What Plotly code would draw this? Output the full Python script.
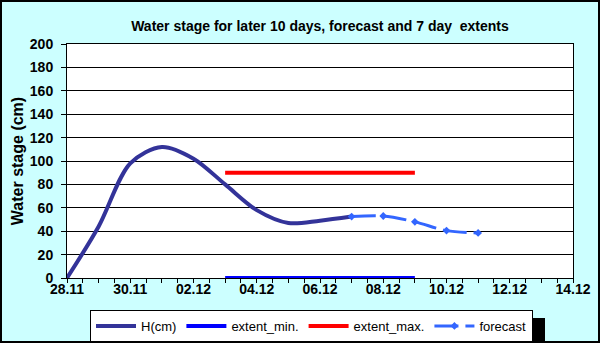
import plotly.graph_objects as go

# ---- data ----
h_dates = ["2010-11-28", "2010-11-29", "2010-11-30", "2010-12-01", "2010-12-02",
           "2010-12-03", "2010-12-04", "2010-12-05", "2010-12-06", "2010-12-07"]
h_values = [0, 44, 98, 112, 102, 80, 58, 47, 49, 52.5]

forecast_dates = ["2010-12-07", "2010-12-08", "2010-12-09", "2010-12-10", "2010-12-11"]
forecast_values = [52.5, 53, 48, 40.5, 38.5]

extent_dates = ["2010-12-03", "2010-12-09"]
extent_min = [0, 0]
extent_max = [90, 90]

x_range = ["2010-11-28", "2010-12-14"]
y_ticks = list(range(0, 201, 20))

FONT = "Arial, Liberation Sans, sans-serif"

fig = go.Figure()
fig.add_trace(go.Scatter(x=h_dates, y=h_values, name="H(cm)", mode="lines",
                         line=dict(color="#333399", width=4, shape="spline", smoothing=0.9)))
fig.add_trace(go.Scatter(x=extent_dates, y=extent_min, name="extent_min.", mode="lines",
                         line=dict(color="#0000ff", width=4)))
fig.add_trace(go.Scatter(x=extent_dates, y=extent_max, name="extent_max.", mode="lines",
                         line=dict(color="#ff0000", width=4)))
fig.add_trace(go.Scatter(x=forecast_dates, y=forecast_values, name="forecast", mode="lines+markers",
                         line=dict(color="#3366ff", width=3, shape="spline", smoothing=0.9, dash="24px,7px"),
                         marker=dict(symbol="diamond", size=6, color="#3366ff")))

W, H = 600, 343
ml, mr, mt, mb = 67, 27, 44, 65
pw, ph = W - ml - mr, H - mt - mb

def px_x(x):
    return (x - ml) / pw

def px_y(y):
    return (H - mb - y) / ph

shapes = [
    # legend shadow
    dict(type="rect", xref="paper", yref="paper", x0=px_x(94), x1=px_x(545), y0=px_y(342), y1=px_y(318),
         fillcolor="black", line=dict(width=0), layer="above"),
    # outer frame
    dict(type="rect", xref="paper", yref="paper", x0=px_x(1), x1=px_x(599), y0=px_y(342), y1=px_y(1),
         line=dict(color="black", width=2), layer="above"),
]

fig.update_layout(
    width=W, height=H,
    margin=dict(l=ml, r=mr, t=mt, b=mb),
    paper_bgcolor="#ccffff",
    plot_bgcolor="white",
    font=dict(family=FONT, color="black", size=12),
    title=dict(text="<b>Water stage for later 10 days, forecast and 7 day  extents</b>",
               x=px_x(320), xref="paper", xanchor="center", y=1 - 26 / H, yanchor="middle",
               font=dict(size=14)),
    xaxis=dict(type="date", range=x_range, tickformat="<b>%d.%m</b>",
               dtick=2 * 86400000, tick0="2010-11-28",
               ticks="outside", ticklen=4, tickcolor="black",
               minor=dict(dtick=43200000, ticks="outside", ticklen=4, tickcolor="black", showgrid=False),
               showline=True, linecolor="black", linewidth=1, mirror=True,
               showgrid=False, zeroline=False, ticklabelstandoff=-6, automargin=False,
               tickfont=dict(size=14, family=FONT)),
    yaxis=dict(range=[0, 200], tickvals=y_ticks, ticktext=[f"<b>{v}</b>" for v in y_ticks],
               ticks="outside", ticklen=5, tickcolor="black",
               showline=True, linecolor="black", linewidth=1, mirror=True,
               showgrid=True, gridcolor="black", gridwidth=1, zeroline=False,
               ticklabelstandoff=5, automargin=False,
               tickfont=dict(size=14, family=FONT),
               title=dict(text="<b>Water stage (cm)</b>", font=dict(size=16), standoff=2)),
    legend=dict(orientation="h", xref="container", yref="container",
                x=90 / W, xanchor="left", y=1 - 310 / H, yanchor="top",
                bgcolor="white", bordercolor="black", borderwidth=1,
                font=dict(size=13, family=FONT), itemwidth=40),
    shapes=shapes,
    showlegend=True,
)

fig.write_html("out.html", post_script="document.body.style.margin='0';",
               config={"displayModeBar": False})
